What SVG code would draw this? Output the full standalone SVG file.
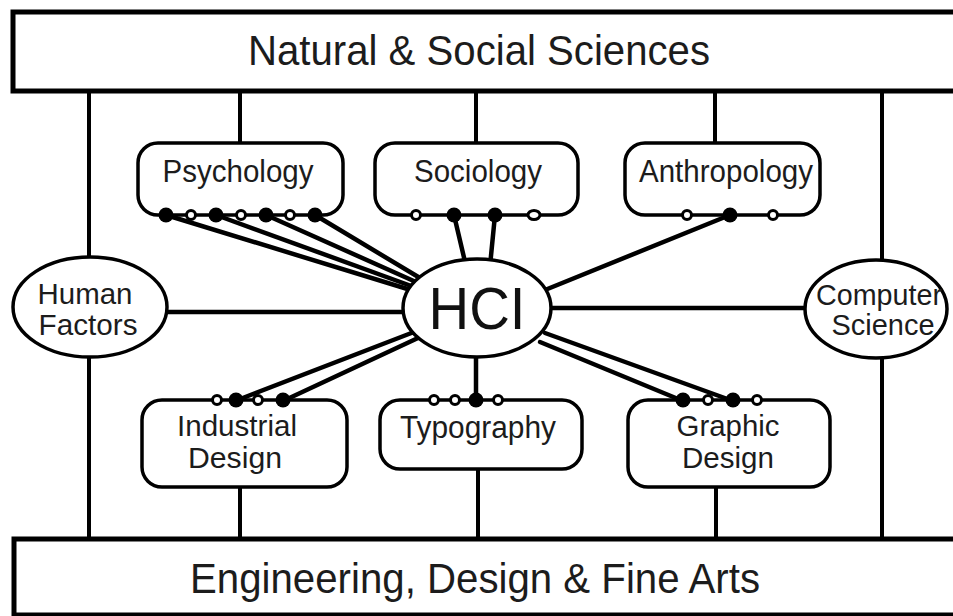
<svg xmlns="http://www.w3.org/2000/svg" width="953" height="616" viewBox="0 0 953 616">
  <style>
    .bar { fill: #fff; stroke: #000; stroke-width: 5; }
    .box { fill: #fff; stroke: #000; stroke-width: 3.5; }
    .oval { fill: #fff; stroke: #000; stroke-width: 3.5; }
    .wire { stroke: #000; stroke-width: 4; fill: none; }
    .link { stroke: #000; stroke-width: 4.5; fill: none; stroke-linecap: round; }
    .on { fill: #000; }
    .off { fill: #fff; stroke: #000; stroke-width: 3; }
    text { font-family: "Liberation Sans", Arial, sans-serif; fill: #1c1c1c; text-anchor: middle; }
    .big { font-size: 42px; }
    .lbl { font-size: 31px; }
    .two { font-size: 29px; }
    .hci { font-size: 60px; fill: #111; }
  </style>
  <rect width="953" height="616" fill="#fff"/>

  <!-- frame wires between the two bands -->
  <g id="connectors">
    <line class="wire" x1="89" y1="91" x2="89" y2="260"/>
    <line class="wire" x1="89" y1="355" x2="89" y2="539"/>
    <line class="wire" x1="882" y1="91" x2="882" y2="262"/>
    <line class="wire" x1="882" y1="355" x2="882" y2="539"/>
    <line class="wire" x1="240" y1="91" x2="240" y2="143"/>
    <line class="wire" x1="476" y1="91" x2="476" y2="143"/>
    <line class="wire" x1="715" y1="91" x2="715" y2="143"/>
    <line class="wire" x1="240" y1="487" x2="240" y2="539"/>
    <line class="wire" x1="478" y1="469" x2="478" y2="539"/>
    <line class="wire" x1="716" y1="487" x2="716" y2="539"/>
    <!-- horizontal links to the side ovals -->
    <line class="link" x1="160" y1="312" x2="420" y2="312" stroke-linecap="butt"/>
    <line class="link" x1="530" y1="308" x2="810" y2="308" stroke-linecap="butt"/>
    <!-- Psychology to HCI -->
    <line class="link" x1="166" y1="215" x2="414" y2="291"/>
    <line class="link" x1="216" y1="215" x2="414" y2="287"/>
    <line class="link" x1="266" y1="215" x2="416" y2="282"/>
    <line class="link" x1="315" y1="215" x2="420" y2="278"/>
    <!-- Sociology to HCI -->
    <line class="link" x1="454" y1="215" x2="466" y2="266"/>
    <line class="link" x1="495" y1="215" x2="490" y2="266"/>
    <!-- Anthropology to HCI -->
    <line class="link" x1="730" y1="215" x2="540" y2="292"/>
    <!-- Industrial Design to HCI -->
    <line class="link" x1="235" y1="401" x2="414" y2="332"/>
    <line class="link" x1="283" y1="401" x2="418" y2="338"/>
    <!-- Typography to HCI -->
    <line class="link" x1="476" y1="350" x2="476" y2="401"/>
    <!-- Graphic Design to HCI -->
    <line class="link" x1="683" y1="401" x2="540" y2="342"/>
    <line class="link" x1="733" y1="401" x2="545" y2="333"/>
  </g>

  <g id="natural-social-sciences">
    <rect class="bar" x="13" y="12" width="950" height="79"/>
    <text class="big" x="479" y="65" textLength="462" lengthAdjust="spacingAndGlyphs">Natural &amp; Social Sciences</text>
  </g>

  <g id="engineering-design-arts">
    <rect class="bar" x="14" y="539" width="950" height="76"/>
    <text class="big" x="475" y="593" textLength="570" lengthAdjust="spacingAndGlyphs">Engineering, Design &amp; Fine Arts</text>
  </g>

  <g id="psychology">
    <rect class="box" x="138" y="143" width="205" height="72" rx="20"/>
    <text class="lbl" x="238" y="182" textLength="151" lengthAdjust="spacingAndGlyphs">Psychology</text>
    <circle class="on" cx="166" cy="215" r="7.5"/>
    <circle class="off" cx="191" cy="215" r="4.5"/>
    <circle class="on" cx="216" cy="215" r="7.5"/>
    <circle class="off" cx="241" cy="215" r="4.5"/>
    <circle class="on" cx="266" cy="215" r="7.5"/>
    <circle class="off" cx="290" cy="215" r="4.5"/>
    <circle class="on" cx="315" cy="215" r="7.5"/>
  </g>

  <g id="sociology">
    <rect class="box" x="375" y="143" width="203" height="72" rx="20"/>
    <text class="lbl" x="478" y="182" textLength="128" lengthAdjust="spacingAndGlyphs">Sociology</text>
    <circle class="off" cx="416" cy="215" r="4.5"/>
    <circle class="on" cx="454" cy="215" r="7.5"/>
    <circle class="on" cx="495" cy="215" r="7.5"/>
    <ellipse class="off" cx="534" cy="215" rx="6" ry="4.5"/>
  </g>

  <g id="anthropology">
    <rect class="box" x="625" y="143" width="195" height="72" rx="20"/>
    <text class="lbl" x="726" y="182" textLength="174" lengthAdjust="spacingAndGlyphs">Anthropology</text>
    <circle class="off" cx="687" cy="215" r="4.5"/>
    <circle class="on" cx="730" cy="215" r="7.5"/>
    <circle class="off" cx="773" cy="215" r="4.5"/>
  </g>

  <g id="human-factors">
    <ellipse class="oval" cx="90" cy="307" rx="77" ry="50"/>
    <text class="two" x="85" y="304" textLength="95" lengthAdjust="spacingAndGlyphs">Human</text>
    <text class="two" x="88" y="335" textLength="99" lengthAdjust="spacingAndGlyphs">Factors</text>
  </g>

  <g id="computer-science">
    <ellipse class="oval" cx="876" cy="309" rx="71" ry="49"/>
    <text class="two" x="879" y="305" textLength="126" lengthAdjust="spacingAndGlyphs">Computer</text>
    <text class="two" x="883" y="335" textLength="103" lengthAdjust="spacingAndGlyphs">Science</text>
  </g>

  <g id="hci">
    <ellipse class="oval" cx="477" cy="308" rx="74" ry="49"/>
    <text class="hci" x="477" y="329" textLength="97" lengthAdjust="spacingAndGlyphs">HCI</text>
  </g>

  <g id="industrial-design">
    <rect class="box" x="142" y="400" width="205" height="87" rx="20"/>
    <text class="two" x="237" y="436" textLength="120" lengthAdjust="spacingAndGlyphs">Industrial</text>
    <text class="two" x="235" y="468" textLength="94" lengthAdjust="spacingAndGlyphs">Design</text>
    <circle class="off" cx="217" cy="400" r="4.5"/>
    <circle class="on" cx="236" cy="400" r="7.5"/>
    <circle class="off" cx="258" cy="400" r="4.5"/>
    <circle class="on" cx="283" cy="400" r="7.5"/>
  </g>

  <g id="typography">
    <rect class="box" x="380" y="400" width="202" height="69" rx="20"/>
    <text class="lbl" x="478" y="438" textLength="156" lengthAdjust="spacingAndGlyphs">Typography</text>
    <circle class="off" cx="434" cy="400" r="4.5"/>
    <circle class="off" cx="455" cy="400" r="4.5"/>
    <circle class="on" cx="476" cy="400" r="7.5"/>
    <circle class="off" cx="498" cy="400" r="4.5"/>
  </g>

  <g id="graphic-design">
    <rect class="box" x="628" y="400" width="202" height="87" rx="20"/>
    <text class="two" x="728" y="436" textLength="103" lengthAdjust="spacingAndGlyphs">Graphic</text>
    <text class="two" x="728" y="468" textLength="92" lengthAdjust="spacingAndGlyphs">Design</text>
    <circle class="on" cx="683" cy="400" r="7.5"/>
    <circle class="off" cx="708" cy="400" r="4.5"/>
    <circle class="on" cx="733" cy="400" r="7.5"/>
    <circle class="off" cx="757" cy="400" r="4.5"/>
  </g>
</svg>
